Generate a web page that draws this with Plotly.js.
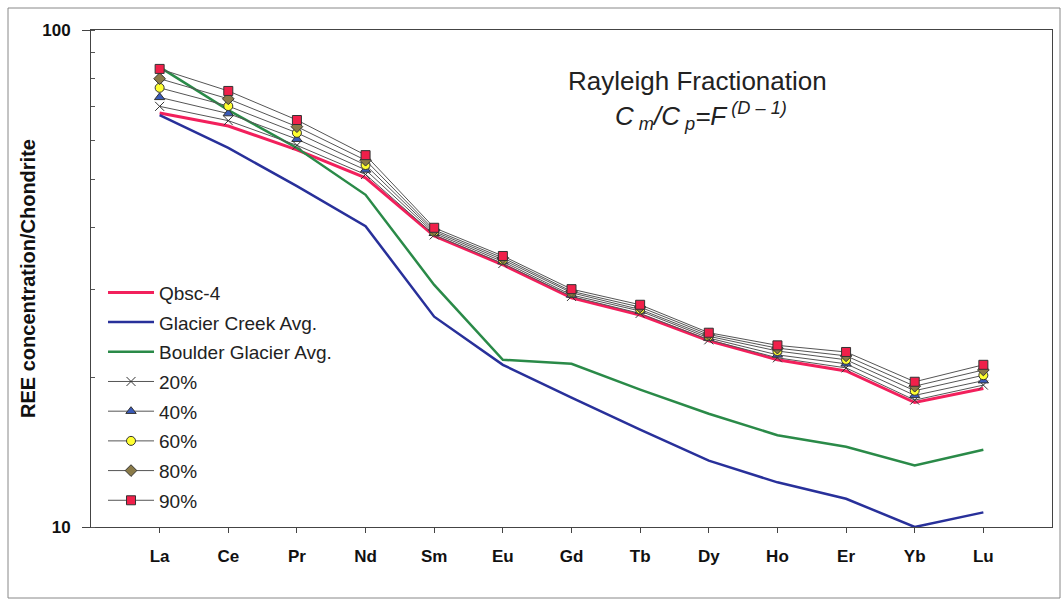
<!DOCTYPE html>
<html>
<head>
<meta charset="utf-8">
<script src="https://cdn.plot.ly/plotly-3.0.1.min.js"></script>
<style>
  html, body { margin: 0; padding: 0; background: #fff; }
  #chart { width: 1063px; height: 605px; }
</style>
</head>
<body>
<div id="chart"></div>
<script>
const elements = ['La','Ce','Pr','Nd','Sm','Eu','Gd','Tb','Dy','Ho','Er','Yb','Lu'];

const qbsc4        = [68.1, 64.1, 57.4, 50.4, 38.5, 33.7, 28.9, 26.7, 23.7, 21.7, 20.6, 17.8, 19.0];
const glacierCreek = [67.4, 57.9, 48.5, 40.3, 26.5, 21.2, 18.2, 15.7, 13.6, 12.3, 11.4, 10.0, 10.7];
const boulderGlac  = [84.2, 69.0, 57.9, 46.6, 30.7, 21.7, 21.3, 18.9, 16.9, 15.3, 14.5, 13.3, 14.3];

const frac20 = [70.2, 65.7, 58.6, 51.2, 38.7, 33.9, 29.1, 26.9, 23.8, 21.9, 20.9, 18.0, 19.3];
const frac40 = [73.2, 67.9, 60.3, 52.3, 39.0, 34.2, 29.3, 27.2, 24.0, 22.2, 21.3, 18.4, 19.7];
const frac60 = [76.5, 70.3, 62.1, 53.5, 39.3, 34.5, 29.6, 27.4, 24.2, 22.6, 21.7, 18.8, 20.2];
const frac80 = [79.8, 72.7, 63.9, 54.7, 39.6, 34.8, 29.8, 27.7, 24.4, 22.9, 22.1, 19.2, 20.7];
const frac90 = [83.5, 75.4, 65.9, 56.0, 40.0, 35.1, 30.1, 28.0, 24.6, 23.2, 22.5, 19.6, 21.2];

const yTickVals = [10, 100];
const yTickText = ['10', '100'];

const FONT = 'Arial, "Liberation Sans", Helvetica, sans-serif';

function lineTrace(name, y, color, width, group) {
  return { x: elements, y: y, name: name, type: 'scatter', mode: 'lines',
           legendgroup: group, line: { color: color, width: width } };
}
function fracTrace(name, y, symbol, fill, size, group) {
  return { x: elements, y: y, name: name, type: 'scatter', mode: 'lines+markers',
           legendgroup: group,
           line: { color: '#555555', width: 1 },
           marker: { symbol: symbol, size: size, color: fill,
                     line: { color: '#333333', width: 1 } } };
}

const traces = [
  lineTrace('Qbsc-4', qbsc4, '#f2205c', 3, 'a'),
  lineTrace('Glacier Creek Avg.', glacierCreek, '#28309a', 2.5, 'b'),
  lineTrace('Boulder Glacier Avg.', boulderGlac, '#2a8a48', 2.5, 'c'),
  fracTrace('20%', frac20, 'x-thin-open', '#333333', 9, 'd'),
  fracTrace('40%', frac40, 'triangle-up', '#3a5ab8', 9, 'e'),
  fracTrace('60%', frac60, 'circle', '#ffff30', 9, 'f'),
  fracTrace('80%', frac80, 'diamond', '#8a7a48', 9, 'g'),
  fracTrace('90%', frac90, 'square', '#f0204a', 9, 'h')
];

const layout = {
  width: 1063, height: 605,
  margin: { l: 91, r: 11, t: 30, b: 78 },
  paper_bgcolor: '#ffffff', plot_bgcolor: '#ffffff',
  font: { family: FONT, color: '#111111' },
  showlegend: true,
  legend: {
    x: 0.0125, y: 0.51, xanchor: 'left', yanchor: 'top',
    bgcolor: 'rgba(0,0,0,0)', borderwidth: 0,
    font: { family: FONT, size: 19, color: '#222222' },
    itemwidth: 46, tracegroupgap: 2
  },
  xaxis: {
    type: 'category', range: [-1, 13],
    showline: true, linecolor: '#444444', linewidth: 1, mirror: true,
    ticks: 'outside', ticklen: 5, tickcolor: '#444444',
    showgrid: false, zeroline: false,
    tickfont: { family: FONT, size: 17, color: '#111111', weight: 'bold' },
    ticklabelstandoff: 9
  },
  yaxis: {
    type: 'log', range: [1, 2],
    showline: true, linecolor: '#444444', linewidth: 1, mirror: true,
    tickmode: 'array', tickvals: yTickVals, ticktext: yTickText,
    ticks: 'outside', ticklen: 8, tickcolor: '#444444',
    showgrid: false, zeroline: false,
    tickfont: { family: FONT, size: 17, color: '#111111', weight: 'bold' },
    ticklabelstandoff: 8,
    minor: { ticks: 'inside', ticklen: 4, tickcolor: '#555555', dtick: 'D1', showgrid: false },
    title: { text: 'REE concentration/Chondrite', standoff: 1,
             font: { family: FONT, size: 20, color: '#111111', weight: 'bold' } }
  },
  annotations: [
    { xref: 'paper', yref: 'paper', x: (697 - 91) / 961, y: (527 - 81) / 497,
      xanchor: 'center', yanchor: 'middle', showarrow: false,
      text: 'Rayleigh Fractionation',
      font: { family: FONT, size: 26, color: '#222222' } },
    { xref: 'paper', yref: 'paper', x: (701 - 91) / 961, y: (527 - 116) / 497,
      xanchor: 'center', yanchor: 'middle', showarrow: false,
      text: '<i>C</i><sub><i> m</i></sub><i>/C</i><sub><i> p</i></sub><i>=F</i><sup><i> (D – 1)</i></sup>',
      font: { family: FONT, size: 26, color: '#222222' } }
  ],
  shapes: [
    { type: 'rect', xref: 'paper', yref: 'paper',
      x0: (8 - 91) / 961, x1: (1060 - 91) / 961,
      y0: (527 - 598) / 497, y1: (527 - 8) / 497,
      line: { color: '#888888', width: 1 }, fillcolor: 'rgba(0,0,0,0)' }
  ]
};

Plotly.newPlot('chart', traces, layout, { displayModeBar: false, staticPlot: true });
</script>
</body>
</html>
